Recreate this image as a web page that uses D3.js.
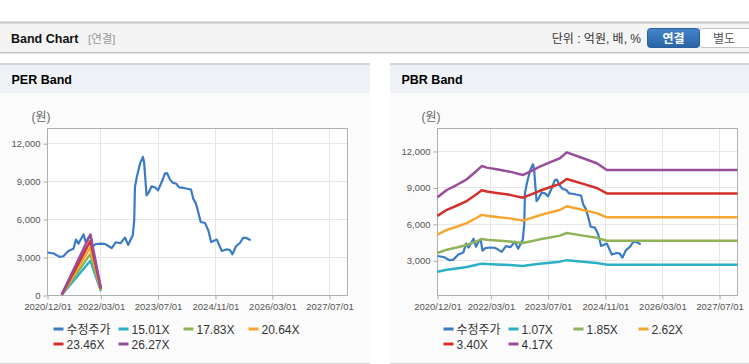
<!DOCTYPE html>
<html>
<head>
<meta charset="utf-8">
<script src="https://cdn.jsdelivr.net/npm/d3@7"></script>
<style>
  body { margin: 0; background: #fff; }
  svg text { font-family: "Liberation Sans", Arial, "Noto Sans CJK KR", sans-serif; }
</style>
</head>
<body>
<div id="container"></div>
<script>
var width = 749;
var height = 364;

// 수정주가 (adjusted price)
var priceDates = ["2020-12-01","2021-01-22","2021-03-15","2021-04-15","2021-05-28","2021-06-25","2021-07-10","2021-08-01","2021-08-22","2021-09-10","2021-10-04","2021-10-25","2021-11-15","2021-12-04","2021-12-19","2022-01-13","2022-02-22","2022-04-01","2022-04-28","2022-06-01","2022-07-07","2022-08-15","2022-09-22","2022-10-19","2022-11-28","2022-12-10","2022-12-16","2023-01-01","2023-01-28","2023-02-22","2023-03-04","2023-03-25","2023-04-10","2023-05-07","2023-06-04","2023-07-01","2023-08-01","2023-08-28","2023-09-15","2023-10-10","2023-11-04","2023-12-01","2023-12-28","2024-02-04","2024-03-16","2024-04-07","2024-04-25","2024-05-19","2024-06-07","2024-06-28","2024-08-04","2024-09-01","2024-09-25","2024-11-13","2024-12-25","2025-02-07","2025-03-04","2025-03-25","2025-04-25","2025-05-28","2025-06-25","2025-07-22","2025-08-28"];
var priceValues = [3400,3320,3050,3100,3520,3630,3700,4420,4100,4420,4820,4160,4580,4760,3840,4050,4100,4080,3950,3740,4210,4130,4580,4000,4760,6000,8570,9360,10420,10950,10530,7920,8100,8630,8550,8310,8970,9630,9680,9180,8900,8850,8550,8500,8420,8370,7660,7260,6600,5810,5730,5150,4230,4420,3520,3650,3600,3260,3890,4150,4550,4550,4370];

// PER band
var perDates = ["2021-04-01","2021-12-01","2022-03-01"];
var perLabels = ["15.01X","17.83X","20.64X","23.46X","26.27X"];
var per1501 = [45, 2750, 340];
var per1783 = [53, 3270, 405];
var per2064 = [62, 3790, 470];
var per2346 = [70, 4300, 535];
var per2627 = [79, 4820, 600];

// PBR band
var pbrDates = ["2020-12-01","2021-02-18","2021-05-13","2021-08-07","2021-11-01","2021-12-13","2022-01-25","2022-04-19","2022-08-10","2022-11-28","2023-01-28","2023-04-22","2023-07-16","2023-10-10","2023-12-07","2024-04-25","2024-08-19","2024-11-13","2027-12-01"];
var pbrLabels = ["1.07X","1.85X","2.62X","3.40X","4.17X"];
var pbr107 = [2110,2265,2370,2490,2675,2770,2740,2700,2655,2580,2655,2760,2850,2935,3060,2935,2830,2690,2690];
var pbr185 = [3650,3920,4100,4310,4625,4790,4735,4670,4590,4465,4590,4770,4930,5075,5295,5075,4895,4650,4650];
var pbr262 = [5165,5550,5805,6100,6545,6785,6705,6615,6495,6320,6495,6755,6980,7185,7495,7185,6930,6585,6585];
var pbr340 = [6705,7200,7535,7920,8495,8805,8700,8585,8430,8200,8430,8765,9060,9330,9730,9330,8995,8545,8545];
var pbr417 = [8225,8830,9240,9710,10420,10800,10670,10530,10340,10060,10340,10750,11110,11440,11930,11440,11030,10480,10480];

var xTicks = ["2020-12-01","2022-03-01","2023-07-01","2024-11-01","2026-03-01","2027-07-01"];
var xDomain = ["2020-12-01","2027-12-01"];
var perYTicks = [0,3000,6000,9000,12000];
var pbrYTicks = [3000,6000,9000,12000];

var priceColor = "#3a7bc8";
var bandColors = ["#2bb1c5","#8fb356","#f5a631","#d3302b","#974f9b"];

var parse = d3.timeParse("%Y-%m-%d");

const SVG = d3.select("#container")
              .append("svg")
              .attr("width", width)
              .attr("height", height);

// ---- header bar ----
SVG.append("rect").attr("x", 0).attr("y", 22).attr("width", width).attr("height", 31).attr("fill", "#f4f4f4");
SVG.append("line").attr("x1", 0).attr("x2", width).attr("y1", 22.5).attr("y2", 22.5).attr("stroke", "#c4c4c4").attr("stroke-width", 2);
SVG.append("line").attr("x1", 0).attr("x2", width).attr("y1", 52.5).attr("y2", 52.5).attr("stroke", "#c2c2c2");
SVG.append("line").attr("x1", 0).attr("x2", width).attr("y1", 53.5).attr("y2", 53.5).attr("stroke", "#e6e6e6");

SVG.append("text").attr("x", 11).attr("y", 43).text("Band Chart")
   .attr("font-size", "12.5px").attr("font-weight", "bold").attr("fill", "#111");
SVG.append("text").attr("x", 88).attr("y", 43).text("[연결]")
   .attr("font-size", "11.5px").attr("fill", "#999");
SVG.append("text").attr("x", 641).attr("y", 43).attr("text-anchor", "end").text("단위 : 억원, 배, %")
   .attr("font-size", "12px").attr("fill", "#333");

var grad = SVG.append("defs").append("linearGradient").attr("id", "btn").attr("x1", 0).attr("x2", 0).attr("y1", 0).attr("y2", 1);
grad.append("stop").attr("offset", "0%").attr("stop-color", "#4386c8");
grad.append("stop").attr("offset", "100%").attr("stop-color", "#2a63a6");

SVG.append("rect").attr("x", 699.5).attr("y", 28.5).attr("width", 56).attr("height", 19).attr("rx", 3)
   .attr("fill", "#fff").attr("stroke", "#c4c4c4");
SVG.append("rect").attr("x", 647.5).attr("y", 28.5).attr("width", 52).attr("height", 19).attr("rx", 3)
   .attr("fill", "url(#btn)").attr("stroke", "#2a5f9e");
SVG.append("text").attr("x", 673.5).attr("y", 42.5).attr("text-anchor", "middle").text("연결")
   .attr("font-size", "12px").attr("font-weight", "bold").attr("fill", "#fff");
SVG.append("text").attr("x", 724).attr("y", 42.5).attr("text-anchor", "middle").text("별도")
   .attr("font-size", "12px").attr("fill", "#555");

// ---- panels ----
function drawPanel(cfg) {
  var P = SVG.append("g");
  P.append("rect").attr("x", cfg.px).attr("y", 64).attr("width", cfg.pw).attr("height", 299).attr("fill", "#fbfbfb");
  P.append("rect").attr("x", cfg.px).attr("y", 64).attr("width", cfg.pw).attr("height", 29).attr("fill", "#eef2f7");
  P.append("line").attr("x1", cfg.px).attr("x2", cfg.px + cfg.pw).attr("y1", 64).attr("y2", 64).attr("stroke", "#d6d6d6").attr("stroke-width", 2);
  P.append("line").attr("x1", cfg.px).attr("x2", cfg.px + cfg.pw).attr("y1", 363.5).attr("y2", 363.5).attr("stroke", "#d8d8d8");
  P.append("text").attr("x", cfg.px + 11.5).attr("y", 84).text(cfg.title)
   .attr("font-size", "12.5px").attr("font-weight", "bold").attr("fill", "#000");

  var left = cfg.plotX, top = 128.5, w = 300, h = 167;
  var G = P.append("g").attr("transform", `translate(${left},${top})`);

  var x = d3.scaleTime().domain(xDomain.map(parse)).range([0, w]);
  var y = d3.scaleLinear().domain(cfg.yDomain).range([h, 0]);

  G.append("rect").attr("width", w).attr("height", h).attr("fill", "#fff");

  // grid
  G.selectAll(".gx").data(xTicks.map(parse)).enter().append("line")
   .attr("x1", d => Math.round(x(d))).attr("x2", d => Math.round(x(d)))
   .attr("y1", 0).attr("y2", h).attr("stroke", "#e6e6e6");
  G.selectAll(".gy").data(cfg.yTicks).enter().append("line")
   .attr("x1", 0).attr("x2", w)
   .attr("y1", d => Math.round(y(d))).attr("y2", d => Math.round(y(d))).attr("stroke", "#e6e6e6");

  // axes
  var xAxis = G.append("g").attr("transform", `translate(0,${h})`)
               .call(d3.axisBottom(x).tickValues(xTicks.map(parse)).tickFormat(d3.timeFormat("%Y/%m/%d")).tickSize(4).tickSizeOuter(0));
  var yAxis = G.append("g")
               .call(d3.axisLeft(y).tickValues(cfg.yTicks).tickFormat(d3.format(",")).tickSize(4).tickSizeOuter(0));
  [xAxis, yAxis].forEach(a => {
    a.select(".domain").remove();
    a.selectAll(".tick line").attr("stroke", "#aaa");
    a.selectAll(".tick text").attr("fill", "#555").attr("font-size", "9.5px")
     .style("font-family", "'Liberation Sans', Arial, sans-serif");
  });
  xAxis.selectAll(".tick text").attr("dy", "0.71em").attr("y", 8);
  yAxis.selectAll(".tick text").attr("x", -7);

  G.append("rect").attr("width", w).attr("height", h).attr("fill", "none").attr("stroke", "#b0b0b0");

  P.append("text").attr("x", left - 16).attr("y", 121).text("(원)")
   .attr("font-size", "12px").attr("fill", "#666");

  // lines
  var line = d3.line().x(d => x(d.date)).y(d => y(d.value));
  var priceData = priceDates.map((d, i) => ({ date: parse(d), value: priceValues[i] }));
  G.append("path").datum(priceData).attr("d", line)
   .attr("fill", "none").attr("stroke", priceColor).attr("stroke-width", 2.2).attr("stroke-linejoin", "round");

  cfg.bands.forEach((vals, k) => {
    var data = cfg.bandDates.map((d, i) => ({ date: parse(d), value: vals[i] }));
    G.append("path").datum(data).attr("d", line)
     .attr("fill", "none").attr("stroke", bandColors[k]).attr("stroke-width", 2.5).attr("stroke-linejoin", "round");
  });

  // legend
  var names = ["수정주가"].concat(cfg.labels);
  var colors = [priceColor].concat(bandColors);
  var L = P.selectAll(".legend").data(names).enter().append("g")
           .attr("transform", (d, i) => `translate(${left + 6 + (i % 4) * 65},${329 + Math.floor(i / 4) * 15})`);
  L.append("line").attr("x1", 0).attr("x2", 10).attr("y1", 0).attr("y2", 0)
   .attr("stroke", (d, i) => colors[i]).attr("stroke-width", 3);
  L.append("text").attr("x", 13).attr("y", 4.5).text(d => d)
   .attr("font-size", "12px").attr("fill", "#333");
}

drawPanel({
  px: 0, pw: 370, title: "PER Band", plotX: 47.5,
  yDomain: [0, 13200], yTicks: perYTicks,
  bandDates: perDates, bands: [per1501, per1783, per2064, per2346, per2627], labels: perLabels
});

drawPanel({
  px: 390, pw: 359, title: "PBR Band", plotX: 437.5,
  yDomain: [150, 13890], yTicks: pbrYTicks,
  bandDates: pbrDates, bands: [pbr107, pbr185, pbr262, pbr340, pbr417], labels: pbrLabels
});
</script>
</body>
</html>
